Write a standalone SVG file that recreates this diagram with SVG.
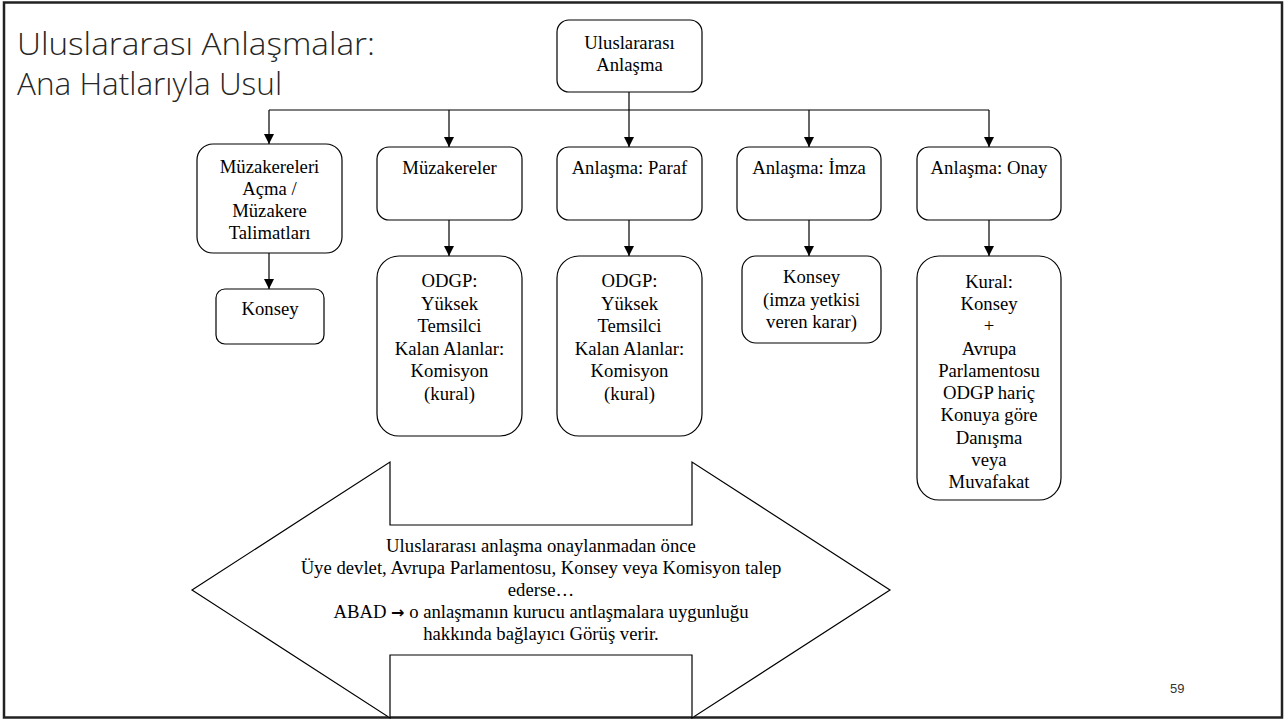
<svg xmlns="http://www.w3.org/2000/svg" width="1285" height="720" viewBox="0 0 1285 720">
<style>
.box{fill:#fff;stroke:#000;stroke-width:1.2}
.t{font-family:"Liberation Serif","Times New Roman",serif;font-size:18.7px;fill:#000;text-anchor:middle}
.ln{fill:none;stroke:#000;stroke-width:1.2}
.title{font-family:"Open Sans","Liberation Sans",Arial,sans-serif;font-weight:300;font-size:32px;fill:#262626}
</style>
<defs>
<marker id="ah" markerUnits="userSpaceOnUse" markerWidth="10" markerHeight="10" refX="9" refY="4.5" orient="auto" viewBox="0 0 9 9">
<path d="M0,0 L9,4.5 L0,9 Z" fill="#000"/>
</marker>
</defs>
<rect x="0" y="0" width="1285" height="720" fill="#fff"/>
<rect x="4" y="2.5" width="1278" height="715" fill="none" stroke="#222" stroke-width="2.5"/>
<g id="title">
<text class="title" x="17" y="55" textLength="358" lengthAdjust="spacingAndGlyphs">Uluslararası Anlaşmalar:</text>
<text class="title" x="17" y="95" textLength="265" lengthAdjust="spacingAndGlyphs">Ana Hatlarıyla Usul</text>
</g>
<g id="connectors">
<line class="ln" x1="629" y1="92" x2="629" y2="110"/>
<line class="ln" x1="269" y1="110" x2="989" y2="110"/>
<line class="ln" x1="269" y1="110" x2="269" y2="144" marker-end="url(#ah)"/>
<line class="ln" x1="449" y1="110" x2="449" y2="147" marker-end="url(#ah)"/>
<line class="ln" x1="629" y1="110" x2="629" y2="147" marker-end="url(#ah)"/>
<line class="ln" x1="809" y1="110" x2="809" y2="147" marker-end="url(#ah)"/>
<line class="ln" x1="989" y1="110" x2="989" y2="147" marker-end="url(#ah)"/>
<line class="ln" x1="269" y1="253" x2="269" y2="289" marker-end="url(#ah)"/>
<line class="ln" x1="449" y1="220" x2="449" y2="256" marker-end="url(#ah)"/>
<line class="ln" x1="629" y1="220" x2="629" y2="256" marker-end="url(#ah)"/>
<line class="ln" x1="809" y1="220" x2="809" y2="256" marker-end="url(#ah)"/>
<line class="ln" x1="989" y1="220" x2="989" y2="256" marker-end="url(#ah)"/>
</g>
<g id="n-root">
<rect class="box" x="557" y="20" width="145" height="72" rx="12"/>
<text class="t" x="629.5" y="49">Uluslararası</text>
<text class="t" x="629.5" y="71">Anlaşma</text>
</g>
<g id="n-acma">
<rect class="box" x="197" y="144" width="145" height="109" rx="16"/>
<text class="t" x="269.5" y="173">Müzakereleri</text>
<text class="t" x="269.5" y="195">Açma /</text>
<text class="t" x="269.5" y="217">Müzakere</text>
<text class="t" x="269.5" y="239">Talimatları</text>
</g>
<g id="n-acma-konsey">
<rect class="box" x="216" y="289" width="108" height="55" rx="9"/>
<text class="t" x="270" y="315">Konsey</text>
</g>
<g id="n-muzakereler">
<rect class="box" x="377" y="147" width="145" height="73" rx="12"/>
<text class="t" x="449.5" y="174">Müzakereler</text>
</g>
<g id="n-muz-odgp">
<rect class="box" x="377" y="256" width="145" height="180" rx="22"/>
<text class="t" x="449.5" y="287">ODGP:</text>
<text class="t" x="449.5" y="309.5">Yüksek</text>
<text class="t" x="449.5" y="332">Temsilci</text>
<text class="t" x="449.5" y="354.5">Kalan Alanlar:</text>
<text class="t" x="449.5" y="377">Komisyon</text>
<text class="t" x="449.5" y="399.5">(kural)</text>
</g>
<g id="n-paraf">
<rect class="box" x="557" y="147" width="145" height="73" rx="12"/>
<text class="t" x="629.5" y="174">Anlaşma: Paraf</text>
</g>
<g id="n-paraf-odgp">
<rect class="box" x="557" y="256" width="145" height="180" rx="22"/>
<text class="t" x="629.5" y="287">ODGP:</text>
<text class="t" x="629.5" y="309.5">Yüksek</text>
<text class="t" x="629.5" y="332">Temsilci</text>
<text class="t" x="629.5" y="354.5">Kalan Alanlar:</text>
<text class="t" x="629.5" y="377">Komisyon</text>
<text class="t" x="629.5" y="399.5">(kural)</text>
</g>
<g id="n-imza">
<rect class="box" x="737" y="147" width="144" height="73" rx="12"/>
<text class="t" x="809" y="174">Anlaşma: İmza</text>
</g>
<g id="n-imza-konsey">
<rect class="box" x="742" y="256" width="139" height="87" rx="14"/>
<text class="t" x="811.5" y="283">Konsey</text>
<text class="t" x="811.5" y="305.5">(imza yetkisi</text>
<text class="t" x="811.5" y="328">veren karar)</text>
</g>
<g id="n-onay">
<rect class="box" x="917" y="147" width="144" height="73" rx="12"/>
<text class="t" x="989" y="174">Anlaşma: Onay</text>
</g>
<g id="n-onay-kural">
<rect class="box" x="917" y="256" width="144" height="244" rx="22"/>
<text class="t" x="989" y="288">Kural:</text>
<text class="t" x="989" y="310">Konsey</text>
<text class="t" x="989" y="332">+</text>
<text class="t" x="989" y="354.5">Avrupa</text>
<text class="t" x="989" y="376.5">Parlamentosu</text>
<text class="t" x="989" y="399">ODGP hariç</text>
<text class="t" x="989" y="421">Konuya göre</text>
<text class="t" x="989" y="443.5">Danışma</text>
<text class="t" x="989" y="465.5">veya</text>
<text class="t" x="989" y="488">Muvafakat</text>
</g>
<g id="n-abad">
<path class="box" d="M192,590 L390,462 L390,525 L692,525 L692,462 L890,590 L692,718 L692,655 L390,655 L390,718 Z"/>
<text class="t" x="541" y="552">Uluslararası anlaşma onaylanmadan önce</text>
<text class="t" x="541" y="574">Üye devlet, Avrupa Parlamentosu, Konsey veya Komisyon talep</text>
<text class="t" x="541" y="596">ederse…</text>
<text class="t" x="541" y="618">ABAD <tspan font-family="DejaVu Sans,sans-serif" font-weight="bold" font-size="16">→</tspan> o anlaşmanın kurucu antlaşmalara uygunluğu</text>
<text class="t" x="541" y="640">hakkında bağlayıcı Görüş verir.</text>
</g>
<g id="page">
<text x="1170" y="693" font-family="Liberation Sans,Arial,sans-serif" font-size="13" fill="#333">59</text>
</g>
</svg>
